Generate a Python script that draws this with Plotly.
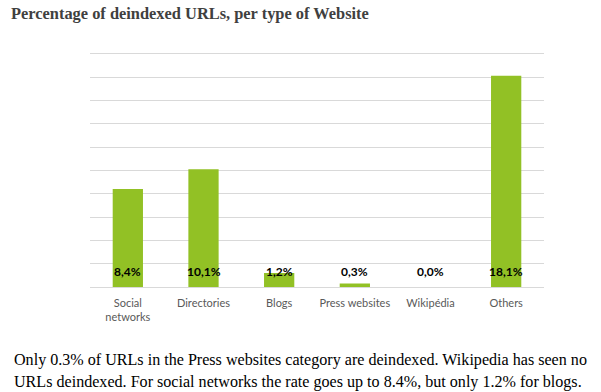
import plotly.graph_objects as go

categories = ["Social<br>networks", "Directories", "Blogs", "Press websites", "Wikipédia", "Others"]
values = [8.4, 10.1, 1.2, 0.3, 0.0, 18.1]
labels = ["8,4%", "10,1%", "1,2%", "0,3%", "0,0%", "18,1%"]

title_text = "Percentage of deindexed URLs, per type of Website"
caption_lines = [
    "Only 0.3% of URLs in the Press websites category are deindexed. Wikipedia has seen no",
    "URLs deindexed. For social networks the rate goes up to 8.4%, but only 1.2% for blogs.",
]

W, H = 601, 392
L, R, T, B = 90, 57, 42, 105
ph = H - T - B
pw = W - L - R

def py(p):
    return (H - B - p) / ph

def px(p):
    return (p - L) / pw

fig = go.Figure()
fig.add_trace(go.Bar(
    x=categories, y=values,
    marker=dict(color="#92C125", line=dict(width=0)),
    hoverinfo="skip",
))

for c, l in zip(categories, labels):
    fig.add_annotation(
        x=c, y=0, xref="x", yref="y", text="<b>" + l + "</b>",
        showarrow=False, yanchor="bottom", yshift=6,
        font=dict(family="Lato", size=12, color="#000000"),
    )

for i, yc in enumerate([359.5, 382]):
    fig.add_annotation(
        x=px(11.5), y=py(yc), xref="paper", yref="paper",
        text=caption_lines[i], showarrow=False, xanchor="left", yanchor="middle", align="left",
        font=dict(family="Liberation Serif", size=16.1, color="#000000"),
    )

fig.update_layout(
    width=W, height=H,
    margin=dict(l=L, r=R, t=T, b=B),
    paper_bgcolor="white", plot_bgcolor="white",
    title=dict(
        text="<b>" + title_text + "</b>",
        x=11 / W, xanchor="left", y=1 - 13 / H, yanchor="middle",
        font=dict(family="Liberation Serif", size=16.4, color="#404040"),
    ),
    bargap=0.6,
    showlegend=False,
    xaxis=dict(
        showgrid=False, showline=False, ticks="",
        tickfont=dict(family="Lato", size=11, color="#595959"),
        ticklabelstandoff=8,
    ),
    yaxis=dict(
        range=[0, 21], tick0=0, dtick=2, showticklabels=False,
        showgrid=True, gridcolor="#D9D9D9", gridwidth=1.3,
        zeroline=True, zerolinecolor="#D9D9D9", zerolinewidth=1.3,
    ),
)

fig.write_html(
    "out.html",
    config={"displayModeBar": False},
    post_script="document.body.style.margin='0';document.body.style.overflow='hidden';",
)
